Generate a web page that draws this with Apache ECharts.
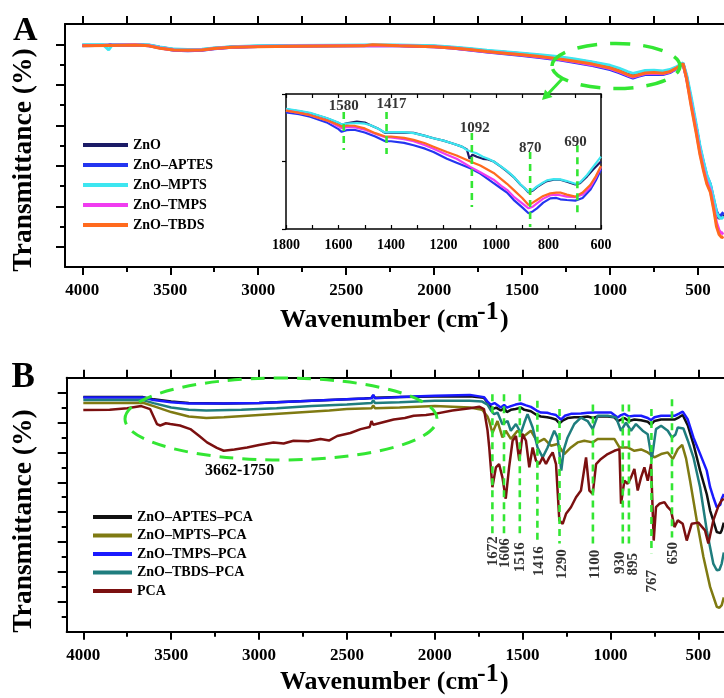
<!DOCTYPE html>
<html><head><meta charset="utf-8">
<script src="https://cdn.jsdelivr.net/npm/echarts@6/dist/echarts.min.js"></script>
<style>html,body{margin:0;padding:0;background:#fff}#c{width:724px;height:698px}</style>
</head><body><div id="c"></div>
<script>
// ---------- tick labels ----------
const xTickLabels = [4000,3500,3000,2500,2000,1500,1000,500];
const xMinorTicks = [3750,3250,2750,2250,1750,1250,750];
const xTopTicks = [4000,3750,3500,3250,3000,2750,2500,2250,2000,1750,1500,1250,1000,750,500];
const insetTickLabels = [1800,1600,1400,1200,1000,800,600];
const insetTicks = [1800,1700,1600,1500,1400,1300,1200,1100,1000,900,800,700,600];
const yAMajor = [1,3,5,7,9,11];
const yAMinor = [2,4,6,8,10];
const yBMajor = [2,4,6,8,10,12,14,16];
const yBMinor = [1,3,5,7,9,11,13,15];

// ---------- series names ----------
const namesA = ['ZnO','ZnO\u2013APTES','ZnO\u2013MPTS','ZnO\u2013TMPS','ZnO\u2013TBDS'];
const namesB = ['ZnO\u2013APTES\u2013PCA','ZnO\u2013MPTS\u2013PCA','ZnO\u2013TMPS\u2013PCA','ZnO\u2013TBDS\u2013PCA','PCA'];

// ---------- panel A main spectra [wavenumber, transmittance] ----------
const aZnO = [[4000,10.95],[3850,10.96],[3700,10.98],[3620,10.95],[3560,10.85],[3480,10.74],[3400,10.72],[3320,10.73],[3250,10.8],[3150,10.86],[3000,10.9],[2800,10.92],[2600,10.93],[2400,10.94],[2360,10.95],[2350,11.03],[2340,10.95],[2200,10.94],[2000,10.9],[1900,10.84],[1800,10.76],[1700,10.67],[1600,10.6],[1500,10.53],[1400,10.45],[1300,10.36],[1200,10.24],[1100,10.1],[1000,9.92],[950,9.78],[900,9.6],[870,9.5],[840,9.56],[800,9.65],[750,9.67],[700,9.63],[660,9.7],[620,9.85],[585,10.05],[565,9.4],[540,8.3],[510,6.9],[490,5.9],[470,5.1],[450,4.4],[430,4.0],[410,3.2],[395,2.6],[380,2.4],[365,2.5],[355,2.6]];
const aAPTES = [[4000,10.93],[3850,10.95],[3700,10.97],[3620,10.93],[3560,10.82],[3480,10.7],[3400,10.68],[3320,10.7],[3250,10.78],[3150,10.85],[3000,10.89],[2800,10.91],[2600,10.92],[2400,10.93],[2200,10.93],[2000,10.88],[1900,10.81],[1800,10.72],[1700,10.62],[1600,10.53],[1500,10.44],[1400,10.34],[1300,10.24],[1200,10.1],[1100,9.95],[1000,9.75],[950,9.6],[900,9.43],[870,9.33],[840,9.42],[800,9.5],[750,9.52],[700,9.5],[660,9.6],[620,9.8],[585,10.02],[565,9.35],[540,8.25],[510,6.9],[490,5.95],[470,5.2],[450,4.5],[430,4.1],[410,3.3],[395,2.75],[380,2.5],[365,2.6],[355,2.7]];
const aMPTS = [[4000,10.97],[3880,10.97],[3850,10.72],[3830,10.97],[3700,10.99],[3620,10.96],[3560,10.87],[3480,10.76],[3400,10.74],[3320,10.75],[3250,10.82],[3150,10.88],[3000,10.92],[2800,10.94],[2600,10.95],[2400,10.96],[2200,10.96],[2000,10.92],[1900,10.86],[1800,10.79],[1700,10.7],[1600,10.63],[1500,10.56],[1400,10.48],[1300,10.39],[1200,10.27],[1100,10.13],[1000,9.96],[950,9.82],[900,9.65],[870,9.56],[840,9.62],[800,9.7],[750,9.72],[700,9.68],[660,9.75],[620,9.9],[585,10.08],[565,9.5],[540,8.45],[510,7.05],[490,6.05],[470,5.25],[450,4.55],[430,4.1],[410,3.35],[395,2.7],[380,2.45],[365,2.4],[355,2.5]];
const aTMPS = [[4000,10.94],[3850,10.95],[3700,10.97],[3620,10.93],[3560,10.82],[3480,10.72],[3400,10.7],[3320,10.71],[3250,10.79],[3150,10.85],[3000,10.89],[2800,10.91],[2600,10.92],[2400,10.93],[2200,10.92],[2000,10.88],[1900,10.82],[1800,10.73],[1700,10.63],[1600,10.55],[1500,10.47],[1400,10.37],[1300,10.27],[1200,10.13],[1100,9.98],[1000,9.8],[950,9.65],[900,9.47],[870,9.38],[840,9.45],[800,9.55],[750,9.57],[700,9.54],[660,9.63],[620,9.82],[585,10.03],[565,9.3],[540,8.1],[510,6.7],[490,5.7],[470,4.9],[450,4.2],[430,3.8],[410,2.9],[395,2.2],[380,1.8],[365,1.65],[355,1.7]];
const aTBDS = [[4000,10.92],[3850,10.94],[3700,10.96],[3620,10.92],[3560,10.8],[3480,10.72],[3400,10.7],[3320,10.72],[3250,10.79],[3150,10.85],[3000,10.88],[2800,10.9],[2600,10.91],[2400,10.92],[2350,10.98],[2200,10.92],[2000,10.88],[1900,10.82],[1800,10.74],[1700,10.64],[1600,10.56],[1500,10.48],[1400,10.39],[1300,10.29],[1200,10.16],[1100,10.02],[1000,9.83],[950,9.68],[900,9.5],[870,9.42],[840,9.48],[800,9.58],[750,9.6],[700,9.57],[660,9.65],[620,9.84],[585,10.04],[565,9.3],[540,8.0],[510,6.6],[490,5.6],[470,4.8],[450,4.1],[430,3.7],[410,2.8],[395,2.0],[380,1.6],[365,1.45],[355,1.5]];

// ---------- panel A inset spectra (1800-600) ----------
const iZnO = [[1800,8.86],[1750,8.72],[1708,8.57],[1645,8.2],[1600,7.85],[1588,7.72],[1569,7.82],[1530,7.95],[1500,7.88],[1480,7.7],[1450,7.45],[1423,7.12],[1400,7.15],[1350,7.14],[1314,7.12],[1270,6.9],[1238,6.72],[1200,6.55],[1162,6.32],[1130,6.1],[1111,5.9],[1101,5.2],[1090,5.5],[1073,5.35],[1050,5.2],[1030,5.15],[1009,5.0],[980,4.6],[958,4.27],[930,3.8],[907,3.3],[890,3.0],[876,2.7],[860,2.85],[844,3.1],[820,3.4],[806,3.55],[780,3.65],[755,3.65],[730,3.5],[698,3.3],[680,3.4],[653,3.9],[630,4.4],[600,5.0]];
const iAPTES = [[1800,8.64],[1750,8.5],[1708,8.32],[1645,7.9],[1600,7.4],[1588,7.2],[1569,7.32],[1540,7.35],[1500,7.15],[1460,6.85],[1422,6.5],[1400,6.5],[1350,6.38],[1314,6.2],[1270,5.95],[1238,5.7],[1187,5.2],[1150,4.9],[1098,4.5],[1060,4.1],[1009,3.4],[980,3.0],[958,2.7],[933,2.16],[900,1.6],[876,1.17],[860,1.3],[844,1.53],[820,1.95],[793,2.27],[770,2.3],[755,2.2],[730,2.15],[698,2.1],[670,2.3],[641,2.9],[620,3.6],[600,4.4]];
const iMPTS = [[1800,8.9],[1750,8.75],[1708,8.6],[1645,8.22],[1600,7.88],[1588,7.75],[1569,7.8],[1530,7.85],[1500,7.8],[1480,7.7],[1450,7.45],[1423,7.15],[1400,7.18],[1350,7.18],[1314,7.1],[1270,6.9],[1238,6.72],[1200,6.55],[1162,6.32],[1130,6.1],[1111,5.85],[1090,5.7],[1073,5.6],[1050,5.35],[1030,5.2],[1009,5.0],[980,4.62],[958,4.3],[930,3.82],[907,3.32],[890,3.0],[876,2.75],[860,2.9],[844,3.15],[820,3.45],[806,3.6],[780,3.7],[755,3.68],[730,3.55],[698,3.35],[680,3.45],[653,4.0],[630,4.6],[600,5.36]];
const iTMPS = [[1800,8.77],[1750,8.6],[1708,8.43],[1645,8.05],[1600,7.6],[1588,7.46],[1569,7.55],[1540,7.55],[1500,7.35],[1460,7.05],[1422,6.8],[1400,6.78],[1350,6.65],[1314,6.5],[1270,6.2],[1238,5.95],[1187,5.5],[1150,5.2],[1098,4.6],[1060,4.2],[1009,3.65],[980,3.2],[958,2.9],[933,2.4],[900,1.9],[876,1.53],[860,1.65],[844,1.9],[820,2.25],[793,2.5],[770,2.55],[755,2.5],[730,2.4],[698,2.35],[670,2.55],[641,3.1],[620,3.8],[600,4.6]];
const iTBDS = [[1800,8.77],[1750,8.6],[1708,8.43],[1645,8.05],[1600,7.7],[1588,7.6],[1569,7.65],[1540,7.65],[1500,7.45],[1460,7.1],[1422,6.85],[1400,6.85],[1350,6.75],[1314,6.6],[1270,6.35],[1238,6.1],[1187,5.7],[1150,5.45],[1098,5.0],[1060,4.7],[1009,4.15],[980,3.7],[958,3.35],[933,2.9],[900,2.3],[876,1.78],[860,1.95],[844,2.15],[820,2.45],[793,2.64],[770,2.7],[755,2.7],[730,2.55],[698,2.4],[670,2.7],[641,3.26],[620,3.9],[600,4.67]];
const insetPeaks = [1580,1417,1092,870,690];

// ---------- panel B spectra ----------
const bAPTES = [[4000,15.7],[3800,15.7],[3660,15.7],[3600,15.55],[3500,15.4],[3400,15.3],[3200,15.28],[3000,15.3],[2800,15.4],[2600,15.5],[2400,15.6],[2360,15.65],[2350,15.8],[2340,15.65],[2200,15.7],[2000,15.75],[1800,15.75],[1720,15.65],[1690,15.2],[1672,14.9],[1650,15.0],[1624,14.8],[1605,14.95],[1590,14.7],[1567,14.85],[1540,14.9],[1510,15.0],[1490,14.85],[1453,14.75],[1420,14.5],[1396,14.4],[1360,14.35],[1339,14.3],[1310,14.2],[1290,13.95],[1270,14.15],[1244,14.3],[1206,14.35],[1168,14.35],[1130,14.4],[1100,14.3],[1073,14.4],[1016,14.4],[978,14.35],[959,14.1],[940,14.2],[921,14.3],[895,14.1],[864,14.2],[826,14.15],[788,14.05],[769,13.85],[750,14.1],[712,14.2],[674,14.2],[636,14.2],[610,14.35],[589,14.5],[560,13.8],[528,12.56],[490,10.78],[452,9.2],[433,8.11],[415,7.44],[395,6.67],[375,6.6],[367,6.78],[355,7.3]];
const bMPTS = [[4000,15.3],[3800,15.3],[3660,15.32],[3600,15.1],[3500,14.7],[3400,14.4],[3300,14.3],[3200,14.35],[3000,14.5],[2800,14.65],[2600,14.8],[2500,14.9],[2360,14.95],[2350,15.15],[2340,14.95],[2200,15.0],[2000,15.1],[1800,15.0],[1730,14.85],[1700,14.4],[1690,14.1],[1672,13.3],[1643,14.1],[1615,13.0],[1596,13.45],[1567,12.9],[1529,13.45],[1491,13.1],[1453,13.45],[1415,12.67],[1377,12.9],[1339,12.45],[1301,12.56],[1263,11.89],[1225,12.33],[1187,12.67],[1149,12.78],[1101,12.67],[1073,12.9],[978,12.9],[949,12.33],[902,12.33],[864,12.11],[826,12.2],[788,12.0],[750,11.67],[712,11.89],[674,12.0],[645,11.56],[617,12.22],[592,12.5],[570,11.6],[547,10.1],[509,7.44],[471,5.0],[433,3.0],[395,1.67],[380,1.6],[367,1.78],[355,2.3]];
const bTMPS = [[4000,15.67],[3800,15.67],[3660,15.67],[3600,15.5],[3500,15.35],[3400,15.28],[3200,15.27],[3000,15.3],[2800,15.4],[2600,15.5],[2400,15.6],[2360,15.62],[2350,15.85],[2340,15.62],[2200,15.7],[2000,15.8],[1800,15.85],[1720,15.7],[1700,15.4],[1681,15.2],[1660,15.3],[1624,15.0],[1605,15.18],[1590,15.0],[1567,15.1],[1540,15.2],[1510,15.27],[1480,15.15],[1453,15.05],[1420,14.8],[1396,14.67],[1360,14.65],[1339,14.58],[1310,14.5],[1282,14.2],[1260,14.45],[1225,14.58],[1168,14.6],[1130,14.65],[1092,14.67],[1040,14.67],[997,14.67],[959,14.33],[940,14.5],[921,14.58],[895,14.4],[864,14.45],[826,14.45],[788,14.3],[769,14.16],[750,14.35],[712,14.45],[674,14.45],[636,14.45],[610,14.6],[589,14.73],[560,14.2],[528,13.0],[490,11.9],[452,10.78],[433,9.67],[415,9.0],[395,8.33],[375,8.5],[367,8.9],[355,9.22]];
const bTBDS = [[4000,15.5],[3800,15.5],[3660,15.5],[3600,15.3],[3500,15.0],[3400,14.85],[3300,14.8],[3100,14.85],[2900,14.95],[2700,15.1],[2500,15.2],[2360,15.3],[2350,15.5],[2340,15.3],[2200,15.35],[2000,15.45],[1800,15.45],[1730,15.4],[1700,15.2],[1680,14.8],[1662,14.56],[1643,14.67],[1615,13.89],[1586,14.1],[1567,13.45],[1538,13.9],[1510,13.3],[1490,14.0],[1472,14.56],[1443,13.67],[1415,12.33],[1386,11.67],[1358,12.33],[1320,13.45],[1301,13.0],[1291,12.0],[1280,10.78],[1265,12.2],[1244,13.0],[1206,13.9],[1168,14.33],[1130,14.1],[1101,13.56],[1073,14.45],[1016,14.45],[968,14.33],[940,13.45],[912,14.0],[883,13.45],[855,13.9],[817,13.45],[788,13.22],[765,11.56],[741,13.56],[712,13.78],[674,13.45],[650,13.0],[630,13.2],[617,13.67],[585,13.6],[560,12.8],[528,11.67],[490,9.67],[452,6.78],[415,4.56],[395,4.11],[380,4.15],[367,4.56],[355,5.3]];
const bPCA = [[4000,14.83],[3850,14.85],[3750,14.95],[3670,15.1],[3620,14.9],[3581,13.9],[3562,13.8],[3530,13.95],[3505,13.9],[3450,13.8],[3391,13.56],[3340,13.1],[3296,12.67],[3240,12.3],[3201,12.11],[3140,12.2],[3068,12.33],[3000,12.5],[2918,12.67],[2860,12.6],[2804,12.78],[2720,12.75],[2650,12.9],[2600,12.8],[2555,13.1],[2480,13.3],[2422,13.56],[2370,13.7],[2360,14.1],[2350,13.85],[2300,14.0],[2234,14.2],[2170,14.3],[2120,14.45],[2050,14.5],[2000,14.58],[1900,14.8],[1800,14.95],[1745,15.05],[1720,14.9],[1700,13.5],[1690,12.33],[1672,9.67],[1652,11.0],[1634,11.22],[1615,10.33],[1596,8.9],[1577,11.0],[1557,12.78],[1538,13.1],[1519,11.45],[1500,13.22],[1481,12.78],[1462,11.0],[1443,12.33],[1424,11.45],[1405,11.22],[1386,11.67],[1367,11.22],[1348,11.67],[1329,12.0],[1310,11.22],[1291,7.45],[1272,7.22],[1253,7.89],[1225,8.33],[1196,9.0],[1168,9.45],[1139,11.67],[1120,9.45],[1101,9.22],[1082,11.22],[1054,11.56],[1016,11.89],[978,12.11],[949,12.22],[940,8.56],[921,10.1],[902,9.9],[883,10.33],[864,10.9],[845,9.45],[826,10.33],[807,11.0],[788,10.1],[769,11.22],[754,6.1],[741,8.33],[722,8.56],[693,8.67],[674,8.33],[655,8.1],[636,7.0],[617,7.45],[589,7.22],[566,6.1],[538,7.22],[500,7.3],[462,6.78],[443,5.9],[415,7.45],[386,8.4],[367,8.8],[355,8.9]];
const peaksB = [1672,1606,1516,1416,1290,1100,930,895,767,650];

// ---------- annotation layout (not data) ----------
const insetLineTop = [8.67,8.67,7.11,5.7,6.2];
const insetLineBottom = [5.85,5.56,1.63,0.15,0.89];
const insetLabelY = [9.11,9.26,7.48,6.0,6.44];
const insetLabelDx = [0,5,3,0,-2];
const peakLineTopB = [15.9,15.9,15.9,15.45,14.9,15.2,15.2,15.2,14.9,15.56];
const peakLineBottomB = [6.58,6.58,6.45,6.11,5.91,5.91,5.78,5.78,5.25,6.31];
const peakLabelYB = [5.38,5.25,4.98,4.71,4.51,4.51,4.61,4.51,3.38,5.25];
const peakLabelDxB = [1,1,0,2,3,2,-3,4,1,1];

const FONT = '"Liberation Serif","Times New Roman",serif';
const GREEN = '#33e633';
const colorsA = ['#1b1b66','#2435f0','#3de6f0','#f03cf0','#ff6a1e'];
const colorsB = ['#111111','#7f7a12','#1a1aff','#1f7d7e','#7b1010'];

function hiddenX(g, min, max, pos) {
  return {gridIndex:g, type:'value', inverse:true, min, max, position:pos,
    splitLine:{show:false}, axisLabel:{show:false}, axisTick:{show:false},
    axisLine:{show:false, onZero:false}};
}
function hiddenY(g, min, max, pos) {
  return {gridIndex:g, type:'value', min, max, position:pos,
    splitLine:{show:false}, axisLabel:{show:false}, axisTick:{show:false},
    axisLine:{show:false, onZero:false}};
}
const blackLine = w => ({show:true, onZero:false, lineStyle:{color:'#000', width:w}});
const tick = (vals, len, w, inside) => ({show:true, customValues:vals, length:len, inside:!!inside, lineStyle:{color:'#000', width:w}});
const tickLabel = (vals, size, margin) => ({show:true, customValues:vals, margin, formatter:v=>String(v),
  fontFamily:FONT, fontWeight:'bold', fontSize:size, color:'#000'});

const A_MIN = 352.2, A_MAX = 4098.3, B_MIN = 354, B_MAX = 4094.5;

const xAxis = [
  Object.assign(hiddenX(0, A_MIN, A_MAX, 'bottom'), {axisLine:blackLine(2), axisTick:tick(xTickLabels, 8, 2), axisLabel:tickLabel(xTickLabels, 17, 15)}),
  Object.assign(hiddenX(0, A_MIN, A_MAX, 'bottom'), {axisTick:tick(xMinorTicks, 5, 2)}),
  Object.assign(hiddenX(0, A_MIN, A_MAX, 'top'), {axisLine:blackLine(2), axisTick:tick(xTopTicks, 8, 2)}),
  Object.assign(hiddenX(1, 600, 1800, 'bottom'), {axisLine:blackLine(1.5), axisTick:tick(insetTicks, 4, 1.2, true), axisLabel:tickLabel(insetTickLabels, 14, 9)}),
  Object.assign(hiddenX(1, 600, 1800, 'top'), {axisLine:blackLine(1.5), axisTick:tick(insetTicks, 4, 1.2, true)}),
  Object.assign(hiddenX(2, B_MIN, B_MAX, 'bottom'), {axisLine:blackLine(2), axisTick:tick(xTickLabels, 8, 2), axisLabel:tickLabel(xTickLabels, 17, 15.5)}),
  Object.assign(hiddenX(2, B_MIN, B_MAX, 'bottom'), {axisTick:tick(xMinorTicks, 5, 2)}),
  Object.assign(hiddenX(2, B_MIN, B_MAX, 'top'), {axisLine:blackLine(2), axisTick:tick(xTopTicks, 8, 2)})
];
const yAxis = [
  Object.assign(hiddenY(0, 0, 12, 'left'), {axisLine:blackLine(2), axisTick:tick(yAMajor, 9, 2)}),
  Object.assign(hiddenY(0, 0, 12, 'left'), {axisTick:tick(yAMinor, 5, 2)}),
  Object.assign(hiddenY(1, 0, 10, 'left'), {axisLine:blackLine(1.5), axisTick:tick([0,5,10], 4, 1.2)}),
  Object.assign(hiddenY(2, 0, 17, 'left'), {axisLine:blackLine(2), axisTick:tick(yBMajor, 9, 2)}),
  Object.assign(hiddenY(2, 0, 17, 'left'), {axisTick:tick(yBMinor, 5, 2)}),
  Object.assign(hiddenY(1, 0, 10, 'right'), {axisLine:blackLine(1.5)})
];

function lineSeries(name, data, color, width, xi, yi, z) {
  return {type:'line', name, data, xAxisIndex:xi, yAxisIndex:yi, symbol:'none', showSymbol:false,
    silent:true, z:z, lineStyle:{color, width}, itemStyle:{color}};
}
function dashSeries(x, y0, y1, xi, yi) {
  return {type:'line', data:[[x,y0],[x,y1]], xAxisIndex:xi, yAxisIndex:yi, symbol:'none',
    silent:true, z:8, lineStyle:{color:GREEN, width:2.6, type:[7,5]}};
}

const series = [];
[aZnO,aAPTES,aMPTS,aTMPS,aTBDS].forEach((d,i)=>series.push(lineSeries(namesA[i], d, colorsA[i], 3, 0, 0, 3+i)));
[iZnO,iAPTES,iMPTS,iTMPS,iTBDS].forEach((d,i)=>series.push(lineSeries(namesA[i], d, colorsA[i], 2.2, 3, 2, 3+i)));
[bAPTES,bMPTS,bTMPS,bTBDS,bPCA].forEach((d,i)=>series.push(lineSeries(namesB[i], d, colorsB[i], 2.5, 5, 3, 3+i)));
insetPeaks.forEach((p,i)=>series.push(dashSeries(p, insetLineTop[i], insetLineBottom[i], 3, 2)));
peaksB.forEach((p,i)=>series.push(dashSeries(p, peakLineTopB[i], peakLineBottomB[i], 5, 3)));
series.push({type:'scatter', xAxisIndex:3, yAxisIndex:2, symbolSize:0, silent:true, z:9,
  data: insetPeaks.map((p,i)=>({value:[p, insetLabelY[i]], name:String(p), label:{offset:[insetLabelDx[i],0]}})),
  label:{show:true, position:'inside', formatter:'{b}', fontFamily:FONT, fontWeight:'bold', fontSize:15, color:'#000'}});
// rotated labels: offset is in the label's own rotated frame, so a horizontal shift is the 2nd component
series.push({type:'scatter', xAxisIndex:5, yAxisIndex:3, symbolSize:0, silent:true, z:9,
  data: peaksB.map((p,i)=>({value:[p, peakLabelYB[i]], name:String(p), label:{offset:[0, peakLabelDxB[i]]}})),
  label:{show:true, position:'inside', formatter:'{b}', rotate:90, fontFamily:FONT, fontWeight:'bold', fontSize:15, color:'#000'}});

const legendText = {fontFamily:FONT, fontWeight:'bold', fontSize:14, color:'#000'};
const T = (x, y, text, size, extra) => Object.assign({type:'text', x, y, silent:true,
  style:{text, font:'bold '+size+'px '+FONT, fill:'#000', align:'left', verticalAlign:'middle'}}, extra||{});

const graphic = [
  T(13, 31.5, 'A', 34),
  T(11.5, 377.5, 'B', 35),
  Object.assign(T(24, 160, 'Transmittance (%)', 27.5), {rotation:Math.PI/2}),
  Object.assign(T(24, 521, 'Transmittance (%)', 27.5), {rotation:Math.PI/2}),
  T(280, 320, 'Wavenumber (cm', 26), T(477, 312.5, '-1', 26), T(500, 320, ')', 26),
  T(280, 682, 'Wavenumber (cm', 26), T(477, 674.5, '-1', 26), T(500, 682, ')', 26),
  T(205, 471, '3662-1750', 16),
  {type:'ellipse', silent:true, z:100, shape:{cx:616, cy:66, rx:64, ry:22.5},
    style:{fill:'none', stroke:GREEN, lineWidth:3.5, lineDash:[20,13]}},
  {type:'ellipse', silent:true, z:100, shape:{cx:281, cy:419, rx:156, ry:41},
    style:{fill:'none', stroke:GREEN, lineWidth:3, lineDash:[14,9]}},
  {type:'line', silent:true, z:100, shape:{x1:563, y1:78, x2:546, y2:96},
    style:{stroke:GREEN, lineWidth:3}},
  {type:'polygon', silent:true, z:100, shape:{points:[[542,100],[552.5,97],[545,89.5]]},
    style:{fill:GREEN}}
];
graphic.forEach(g=>{ if(g.type==='text'){ g.style.align = g.rotation ? 'center' : 'left'; } });

const option = {
  animation:false,
  backgroundColor:'#fff',
  grid:[
    {left:65, right:0, top:24, height:243},
    {left:286, width:315, top:94, height:135, show:true, backgroundColor:'#fff', borderWidth:0},
    {left:66.7, right:0, top:377.7, height:254}
  ],
  xAxis, yAxis, series, graphic,
  legend:[
    {data:namesA, orient:'vertical', left:83, top:138, itemGap:6, itemWidth:45, itemHeight:4, icon:'rect', padding:0, selectedMode:false, textStyle:legendText},
    {data:namesB, orient:'vertical', left:93, top:510, itemGap:4.5, itemWidth:39, itemHeight:4, icon:'rect', padding:0, selectedMode:false, textStyle:legendText}
  ]
};
echarts.init(document.getElementById('c')).setOption(option);
</script></body></html>
